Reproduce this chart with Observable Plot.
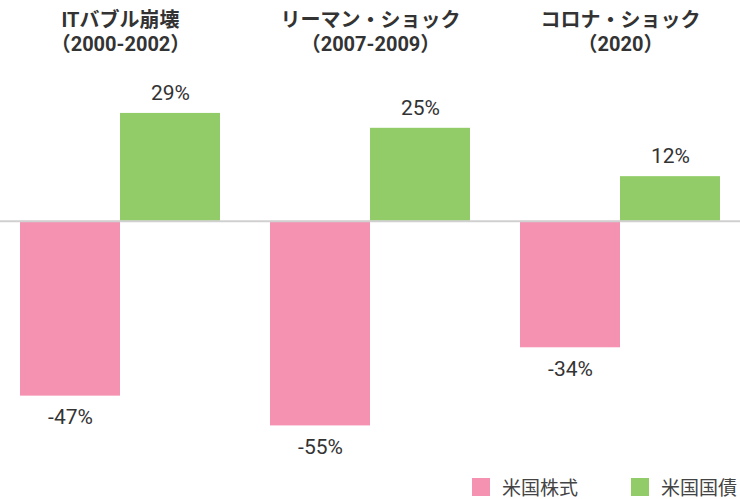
<!DOCTYPE html>
<html><head><meta charset="utf-8">
<script src="https://cdn.jsdelivr.net/npm/d3@7"></script>
<script src="https://cdn.jsdelivr.net/npm/@observablehq/plot@0.6"></script>
<style>
body{margin:0;background:#fff;font-family:Roboto,"Noto Sans CJK JP",sans-serif;}
svg{display:block;}
#legend{display:flex;justify-content:flex-end;align-items:center;height:24px;line-height:22px;padding-right:3px;font-family:"Noto Sans CJK JP",sans-serif;font-size:19px;color:#444;}
.item{display:flex;align-items:center;}
.sw{width:18px;height:18px;margin-right:12px;}
</style></head><body><div id="chart"></div><div id="legend"></div>
<script>
const groups = ["ITバブル崩壊", "リーマン・ショック", "コロナ・ショック"];
const periods = ["（2000-2002）", "（2007-2009）", "（2020）"];
const series = ["米国株式", "米国国債"];
const stocks = [-47, -55, -34];
const bonds = [29, 25, 12];
const colors = ["#f592b2", "#92cc68"];

const stockRows = groups.map((g, i) => ({group: g, value: stocks[i]}));
const bondRows = groups.map((g, i) => ({group: g, value: bonds[i]}));
const titleRows = groups.map((g, i) => ({group: g, label: g + "\n" + periods[i]}));

const chart = Plot.plot({
  width: 740,
  height: 475,
  marginTop: 72,
  marginBottom: 31,
  marginLeft: 0,
  marginRight: 0,
  style: {fontFamily: 'Roboto, "Noto Sans CJK JP", sans-serif', background: "#fff"},
  x: {domain: groups, range: [20, 720], paddingInner: 0.2, paddingOuter: 0, axis: null},
  y: {domain: [-60, 40], axis: null},
  marks: [
    Plot.barY(stockRows, {x: "group", y: "value", fill: colors[0], insetRight: 100}),
    Plot.barY(bondRows, {x: "group", y: "value", fill: colors[1], insetLeft: 100}),
    Plot.ruleY([0], {stroke: "#d0d0d0", strokeWidth: 2}),
    Plot.text(stockRows, {x: "group", y: "value", text: d => d.value + "%", dx: -50, dy: 21, fontSize: 21, fill: "#333", lineAnchor: "middle"}),
    Plot.text(bondRows, {x: "group", y: "value", text: d => d.value + "%", dx: 50, dy: -20, fontSize: 21, fill: "#333", lineAnchor: "middle"}),
    Plot.text(titleRows, {x: "group", text: "label", frameAnchor: "top", dy: -63, lineAnchor: "top", lineHeight: 1.2, fontSize: 20, fontWeight: "bold", fill: "#333"})
  ]
});
document.getElementById("chart").appendChild(chart);

const legend = document.getElementById("legend");
series.forEach((s, i) => {
  const item = document.createElement("div");
  item.className = "item";
  if (i > 0) item.style.marginLeft = "53px";
  const sw = document.createElement("div");
  sw.className = "sw";
  sw.style.background = colors[i];
  const t = document.createElement("span");
  t.textContent = s;
  item.appendChild(sw);
  item.appendChild(t);
  legend.appendChild(item);
});
</script></body></html>
